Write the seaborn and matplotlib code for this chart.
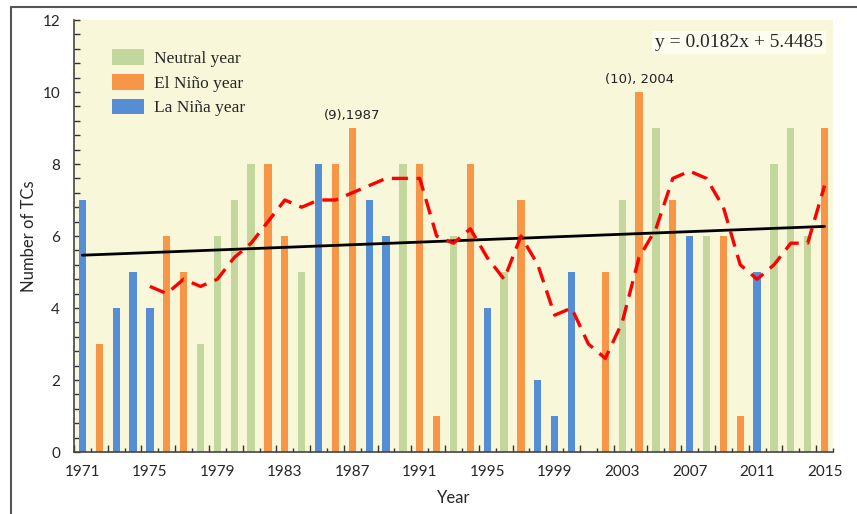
import pandas as pd
import matplotlib.pyplot as plt
import seaborn as sns
import numpy as np
from matplotlib.lines import Line2D
from matplotlib.ticker import MultipleLocator, FixedLocator

# Datos
years = list(range(1971, 2016))
tcs = [7, 3, 4, 5, 4, 6, 5, 3, 6, 7,
       8, 8, 6, 5, 8, 8, 9, 7, 6, 8,
       8, 1, 6, 8, 4, 5, 7, 2, 1, 5,
       0, 5, 7, 10, 9, 7, 6, 6, 6, 1,
       5, 8, 9, 6, 9]
phase = ['La', 'El', 'La', 'La', 'La', 'El', 'El', 'N', 'N', 'N',
         'N', 'El', 'El', 'N', 'La', 'El', 'El', 'La', 'La', 'N',
         'El', 'El', 'N', 'El', 'La', 'N', 'El', 'La', 'La', 'La',
         'N', 'El', 'N', 'El', 'N', 'El', 'La', 'N', 'El', 'El',
         'La', 'N', 'N', 'N', 'El']
# media movil de 5 anos (linea roja), 1975-2015
ma_years = list(range(1975, 2016))
ma5 = [4.6, 4.4, 4.8, 4.6, 4.8, 5.4, 5.8, 6.4, 7.0, 6.8,
       7.0, 7.0, 7.2, 7.4, 7.6, 7.6, 7.6, 6.0, 5.8, 6.2,
       5.4, 4.8, 6.0, 5.2, 3.8, 4.0, 3.0, 2.6, 3.6, 5.4,
       6.2, 7.6, 7.8, 7.6, 6.8, 5.2, 4.8, 5.2, 5.8, 5.8,
       7.4]
labels = {'N': 'Neutral year', 'El': 'El Niño year', 'La': 'La Niña year'}
colores = {'Neutral year': '#C3D69B', 'El Niño year': '#F79646', 'La Niña year': '#558ED5'}

df = pd.DataFrame({'year': years, 'tcs': tcs, 'fase': [labels[p] for p in phase]})
df['pos'] = np.arange(len(years))

sns.set_style('ticks')
plt.rcParams['font.family'] = ['Lato', 'DejaVu Sans']

fig = plt.figure(figsize=(8.57, 5.14), dpi=100)
ax = fig.add_axes([74/857, 62/514, 759/857, 432/514])
ax.set_facecolor('#F9F7DA')

sns.barplot(data=df, x='pos', y='tcs', hue='fase', dodge=False, width=0.43,
            hue_order=list(colores), palette=colores, native_scale=True,
            saturation=1, linewidth=0, ax=ax, zorder=2)

# linea de tendencia lineal
sns.regplot(x=df['pos'] + 1, y=df['tcs'], ci=None, scatter=False, truncate=True,
            line_kws={'color': 'black', 'lw': 2.0, 'zorder': 3}, ax=ax)
# regplot usa pos+1 (x = 1..45), se desplaza al centro de la categoria
ax.lines[-1].set_xdata(np.asarray(ax.lines[-1].get_xdata()) - 1)

ma_pos = [y - 1971 for y in ma_years]
ax.plot(ma_pos, ma5, color='#FF0000', lw=2.4, ls=(0, (4.8, 2.6)), zorder=4)

ax.set_xlim(-0.5, 44.5)
ax.set_ylim(0, 12)

# eje x: ticks en los limites de categoria
ax.xaxis.set_major_locator(FixedLocator(np.arange(-0.5, 45, 2)))
ax.xaxis.set_minor_locator(FixedLocator(np.arange(0.5, 45, 2)))
ax.tick_params(axis='x', which='major', direction='in', length=5, width=1, color='#333333', labelbottom=False)
ax.tick_params(axis='x', which='minor', direction='in', length=3, width=1, color='#333333')
sec = ax.secondary_xaxis('bottom')
sec.set_xticks(np.arange(0, 45, 4))
sec.set_xticklabels([str(y) for y in years[::4]])
sec.tick_params(length=0, pad=9, labelsize=11)
sec.spines['bottom'].set_visible(False)
sec.set_xlabel('Year', fontsize=12, labelpad=8)

ax.yaxis.set_major_locator(MultipleLocator(2))
ax.yaxis.set_minor_locator(MultipleLocator(0.4))
ax.tick_params(axis='y', which='both', direction='in', length=4, width=1, color='#333333', labelsize=11, pad=10)
ax.set_ylabel('Number of TCs', fontsize=12, labelpad=4)
ax.set_xlabel('')

for s in ['top', 'right']:
    ax.spines[s].set_visible(False)
for s in ['left', 'bottom']:
    ax.spines[s].set_color('#444444')
    ax.spines[s].set_linewidth(1.2)

# leyenda
ax.legend(loc='upper left', bbox_to_anchor=(0.03, 0.968), frameon=False,
          prop={'family': 'Liberation Serif', 'size': 12.5}, handlelength=1.8,
          handleheight=1.0, labelspacing=0.4, handletextpad=0.6)

ax.text(0.876, 0.947, 'y = 0.0182x + 5.4485', transform=ax.transAxes, ha='center', va='center',
        fontsize=14, family='Liberation Serif',
        bbox=dict(boxstyle='square,pad=0.15', fc='#FDFDF2', ec='none'))
ax.annotate('(9),1987', xy=(16, 9), xytext=(16, 9.36), ha='center', va='center',
            fontsize=9.5, family='DejaVu Sans', color='#222222')
ax.annotate('(10), 2004', xy=(33, 10), xytext=(33.05, 10.36), ha='center', va='center',
            fontsize=9.5, family='DejaVu Sans', color='#222222')

# marco de la figura
fig.add_artist(Line2D([11/857, 1], [1 - 7/514, 1 - 7/514], color='#555555', lw=1.5))
fig.add_artist(Line2D([11/857, 11/857], [0, 1 - 7/514], color='#555555', lw=1.5))

fig.savefig('out.png', dpi=100)
